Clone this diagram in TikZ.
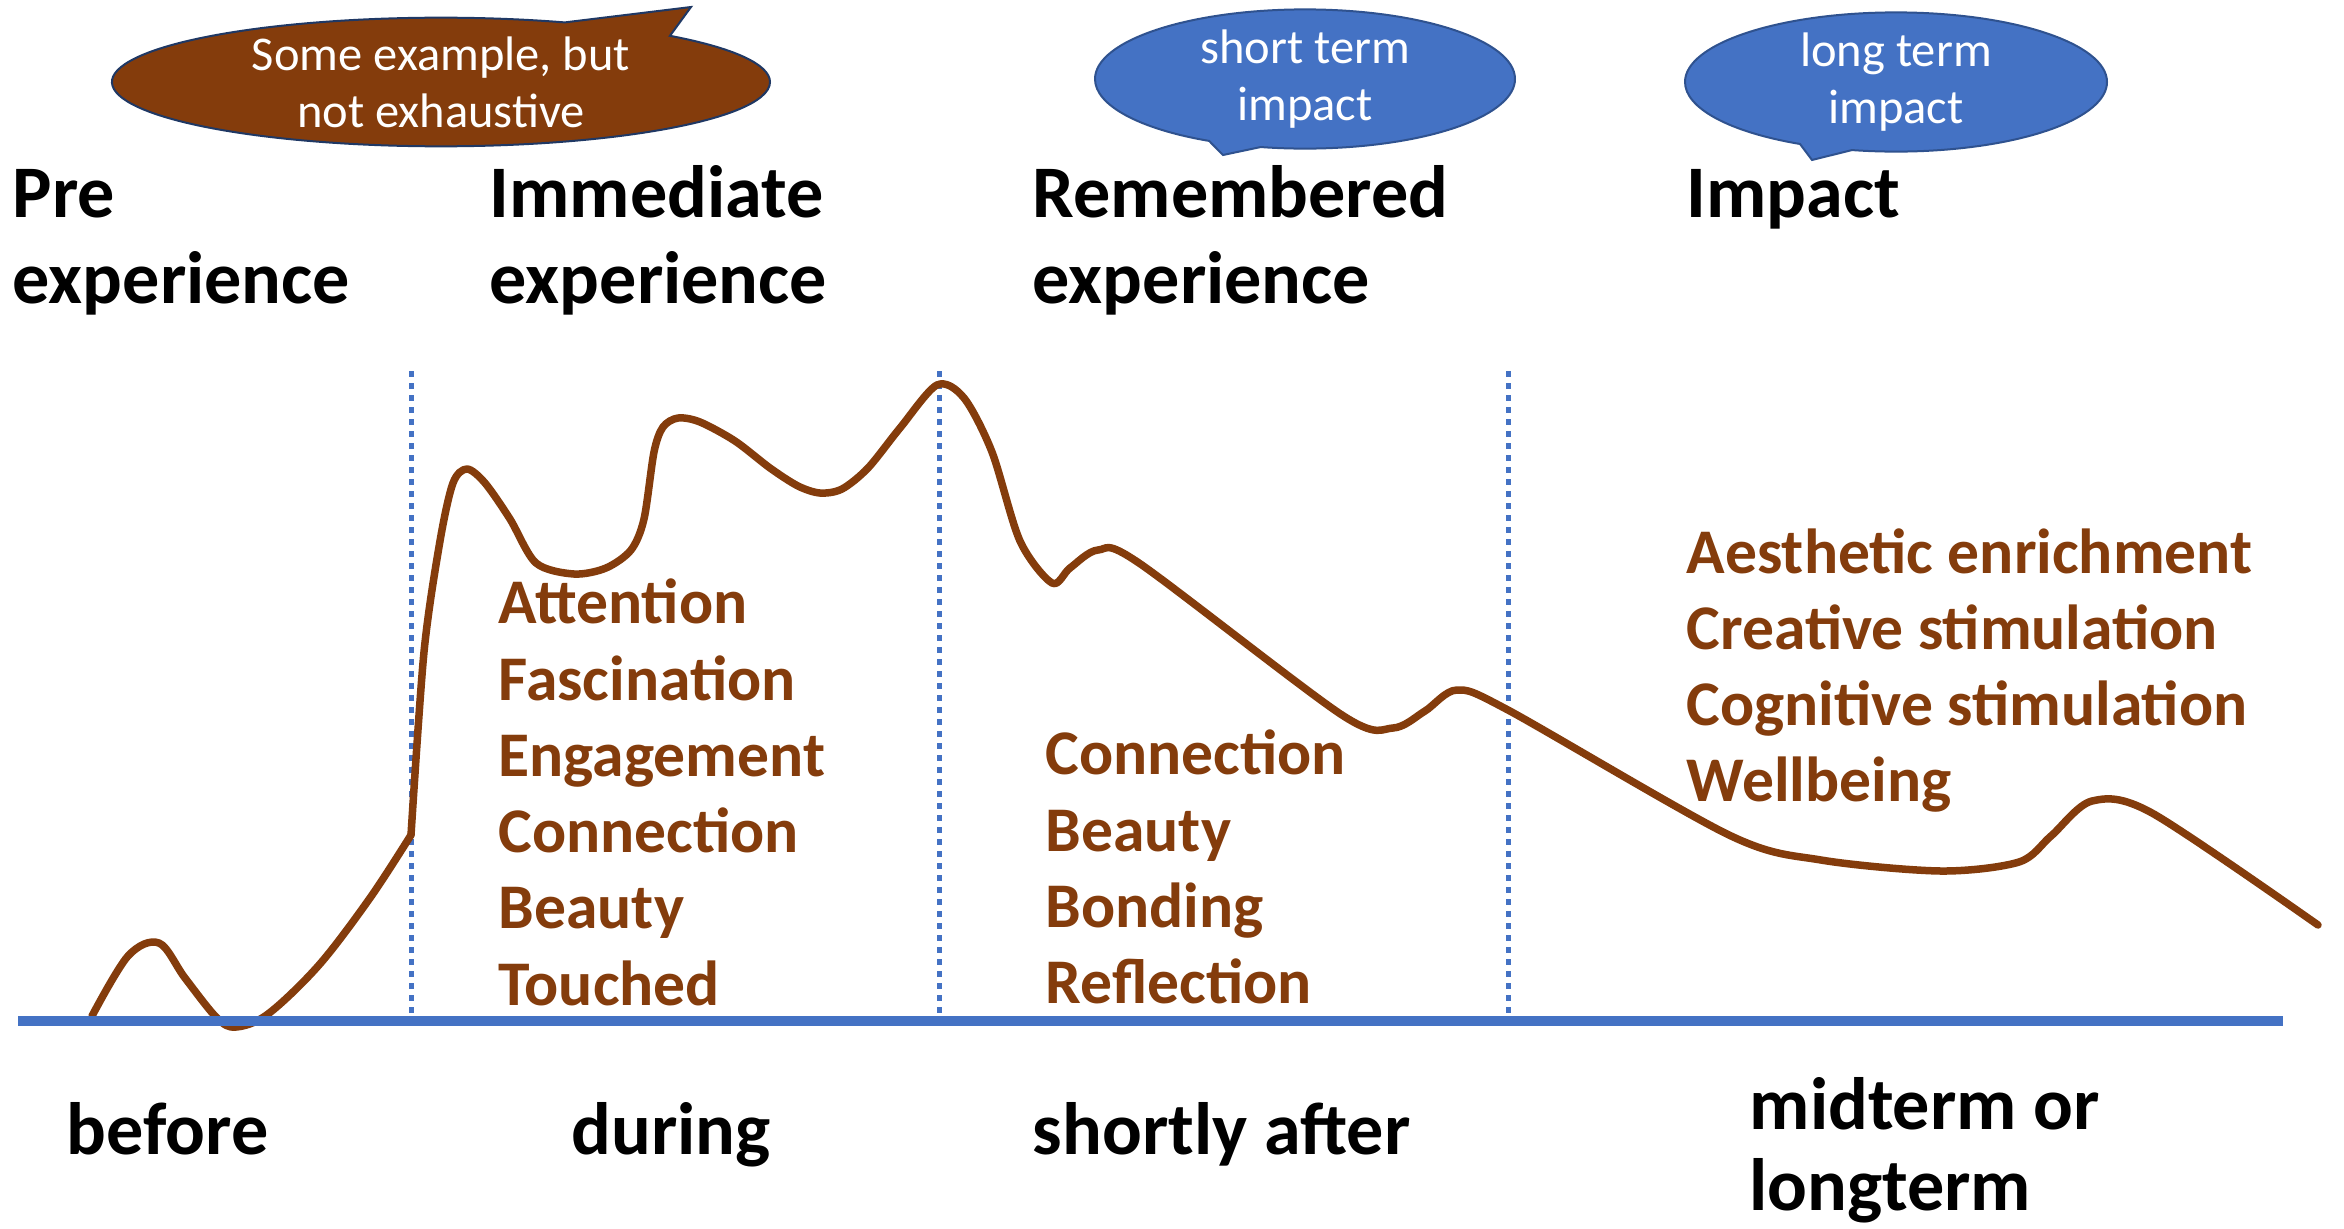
\documentclass[tikz,border=0pt]{standalone}
\usepackage{fontspec}
\setmainfont{Carlito}
\usetikzlibrary{shapes.callouts}
\definecolor{brn}{HTML}{843C0C}
\definecolor{blu}{HTML}{4472C4}
\definecolor{edgeblue}{HTML}{2F528F}
\definecolor{navy}{HTML}{1F3864}
\begin{document}
\begin{tikzpicture}[x=0.1mm,y=-0.1mm,
  title/.style={anchor=base west, inner sep=0, font=\fontsize{21.1}{25}\selectfont\bfseries},
  item/.style={anchor=base west, inner sep=0, text=brn, font=\fontsize{18.1}{21}\selectfont\bfseries},
  bubble/.style={ellipse callout, draw, line width=0.2mm, inner sep=0, text=white, align=center,
     font=\fontsize{13.8}{16.2}\selectfont},
  divider/.style={blu, line width=0.5mm, dash pattern=on 0.6mm off 0.6mm},
  axisline/.style={blu, line width=1mm},
  curveline/.style={brn, line width=0.75mm, line join=round, line cap=round},
]
\useasboundingbox (0,0) rectangle (2344,1228);
\fill[white] (0,0) rectangle (2344,1228);

% callouts
\node[bubble, fill=brn, draw=navy, minimum width=65.8mm, minimum height=12.6mm,
  callout absolute pointer={(691,7)}, callout pointer arc=22] (example) at (441,82)
  {Some example, but\\not exhaustive};
\node[bubble, fill=blu, draw=edgeblue, minimum width=42mm, minimum height=11.6mm,
  callout absolute pointer={(1223,155)}] (short) at (1305,79) {short term\\impact};
\node[bubble, fill=blu, draw=edgeblue, minimum width=42.2mm, minimum height=12mm,
  callout absolute pointer={(1812,160)}] (long) at (1896,82) {long term\\impact};

% titles
\node[title] (pre1) at (12,217) {Pre};
\node[title] (pre2) at (12,303) {experience};
\node[title] (imm1) at (489,217) {Immediate};
\node[title] (imm2) at (489,303) {experience};
\node[title] (rem1) at (1032,217) {Remembered};
\node[title] (rem2) at (1032,303) {experience};
\node[title] (imp1) at (1686,217) {Impact};

% dividers
\coordinate (d1t) at (411,371); \coordinate (d1b) at (411,1017);
\coordinate (d2t) at (939,371); \coordinate (d2b) at (939,1017);
\coordinate (d3t) at (1508,371); \coordinate (d3b) at (1508,1017);
\draw[divider] (d1t) -- (d1b);
\draw[divider] (d2t) -- (d2b);
\draw[divider] (d3t) -- (d3b);

% curve
\draw[curveline] plot[smooth, tension=0.55] coordinates {
  (92,1016) (128,956) (159,943) (185,978) (217,1018) (236,1027) (268,1014)
  (319,965) (370,898) (411,835)};
\draw[curveline] plot[smooth, tension=0.5] coordinates {
  (411,835) (424,652) (440,541) (453,483) (467,469) (485,483) (510,519)
  (536,563) (574,574) (606,568) (631,550) (644,519) (654,452) (663,427)
  (678,418) (700,422) (735,441) (770,468) (798,486) (820,493) (842,489)
  (868,468) (900,428) (937,385)
  (964,398) (992,452) (1020,541) (1052,583) (1070,568) (1098,550) (1139,563)
  (1342,715) (1393,728) (1425,711) (1457,690) (1508,710) (1729,835)
  (1821,860) (1941,871) (2019,862) (2051,836) (2092,801) (2152,813) (2318,925)};

% axis
\coordinate (axL) at (18,1021);
\coordinate (axR) at (2283,1021);
\draw[axisline] (axL) -- (axR);

% lists
\node[item] (a1) at (498,623) {Attention};
\node[item] (a2) at (498,700) {Fascination};
\node[item] (a3) at (498,776) {Engagement};
\node[item] (a4) at (498,852) {Connection};
\node[item] (a5) at (498,928) {Beauty};
\node[item] (a6) at (498,1005) {Touched};
\node[item] (b1) at (1045,774) {Connection};
\node[item] (b2) at (1045,851) {Beauty};
\node[item] (b3) at (1045,927) {Bonding};
\node[item] (b4) at (1045,1003) {Reflection};
\node[item] (c1) at (1686,573) {Aesthetic enrichment};
\node[item] (c2) at (1686,649) {Creative stimulation};
\node[item] (c3) at (1686,725) {Cognitive stimulation};
\node[item] (c4) at (1686,801) {Wellbeing};

% bottom labels
\node[title] (before) at (66,1154) {before};
\node[title] (during) at (571,1154) {during};
\node[title] (after) at (1032,1154) {shortly after};
\node[title] (mid1) at (1749,1129) {midterm or};
\node[title] (mid2) at (1749,1210) {longterm};
\end{tikzpicture}
\end{document}
